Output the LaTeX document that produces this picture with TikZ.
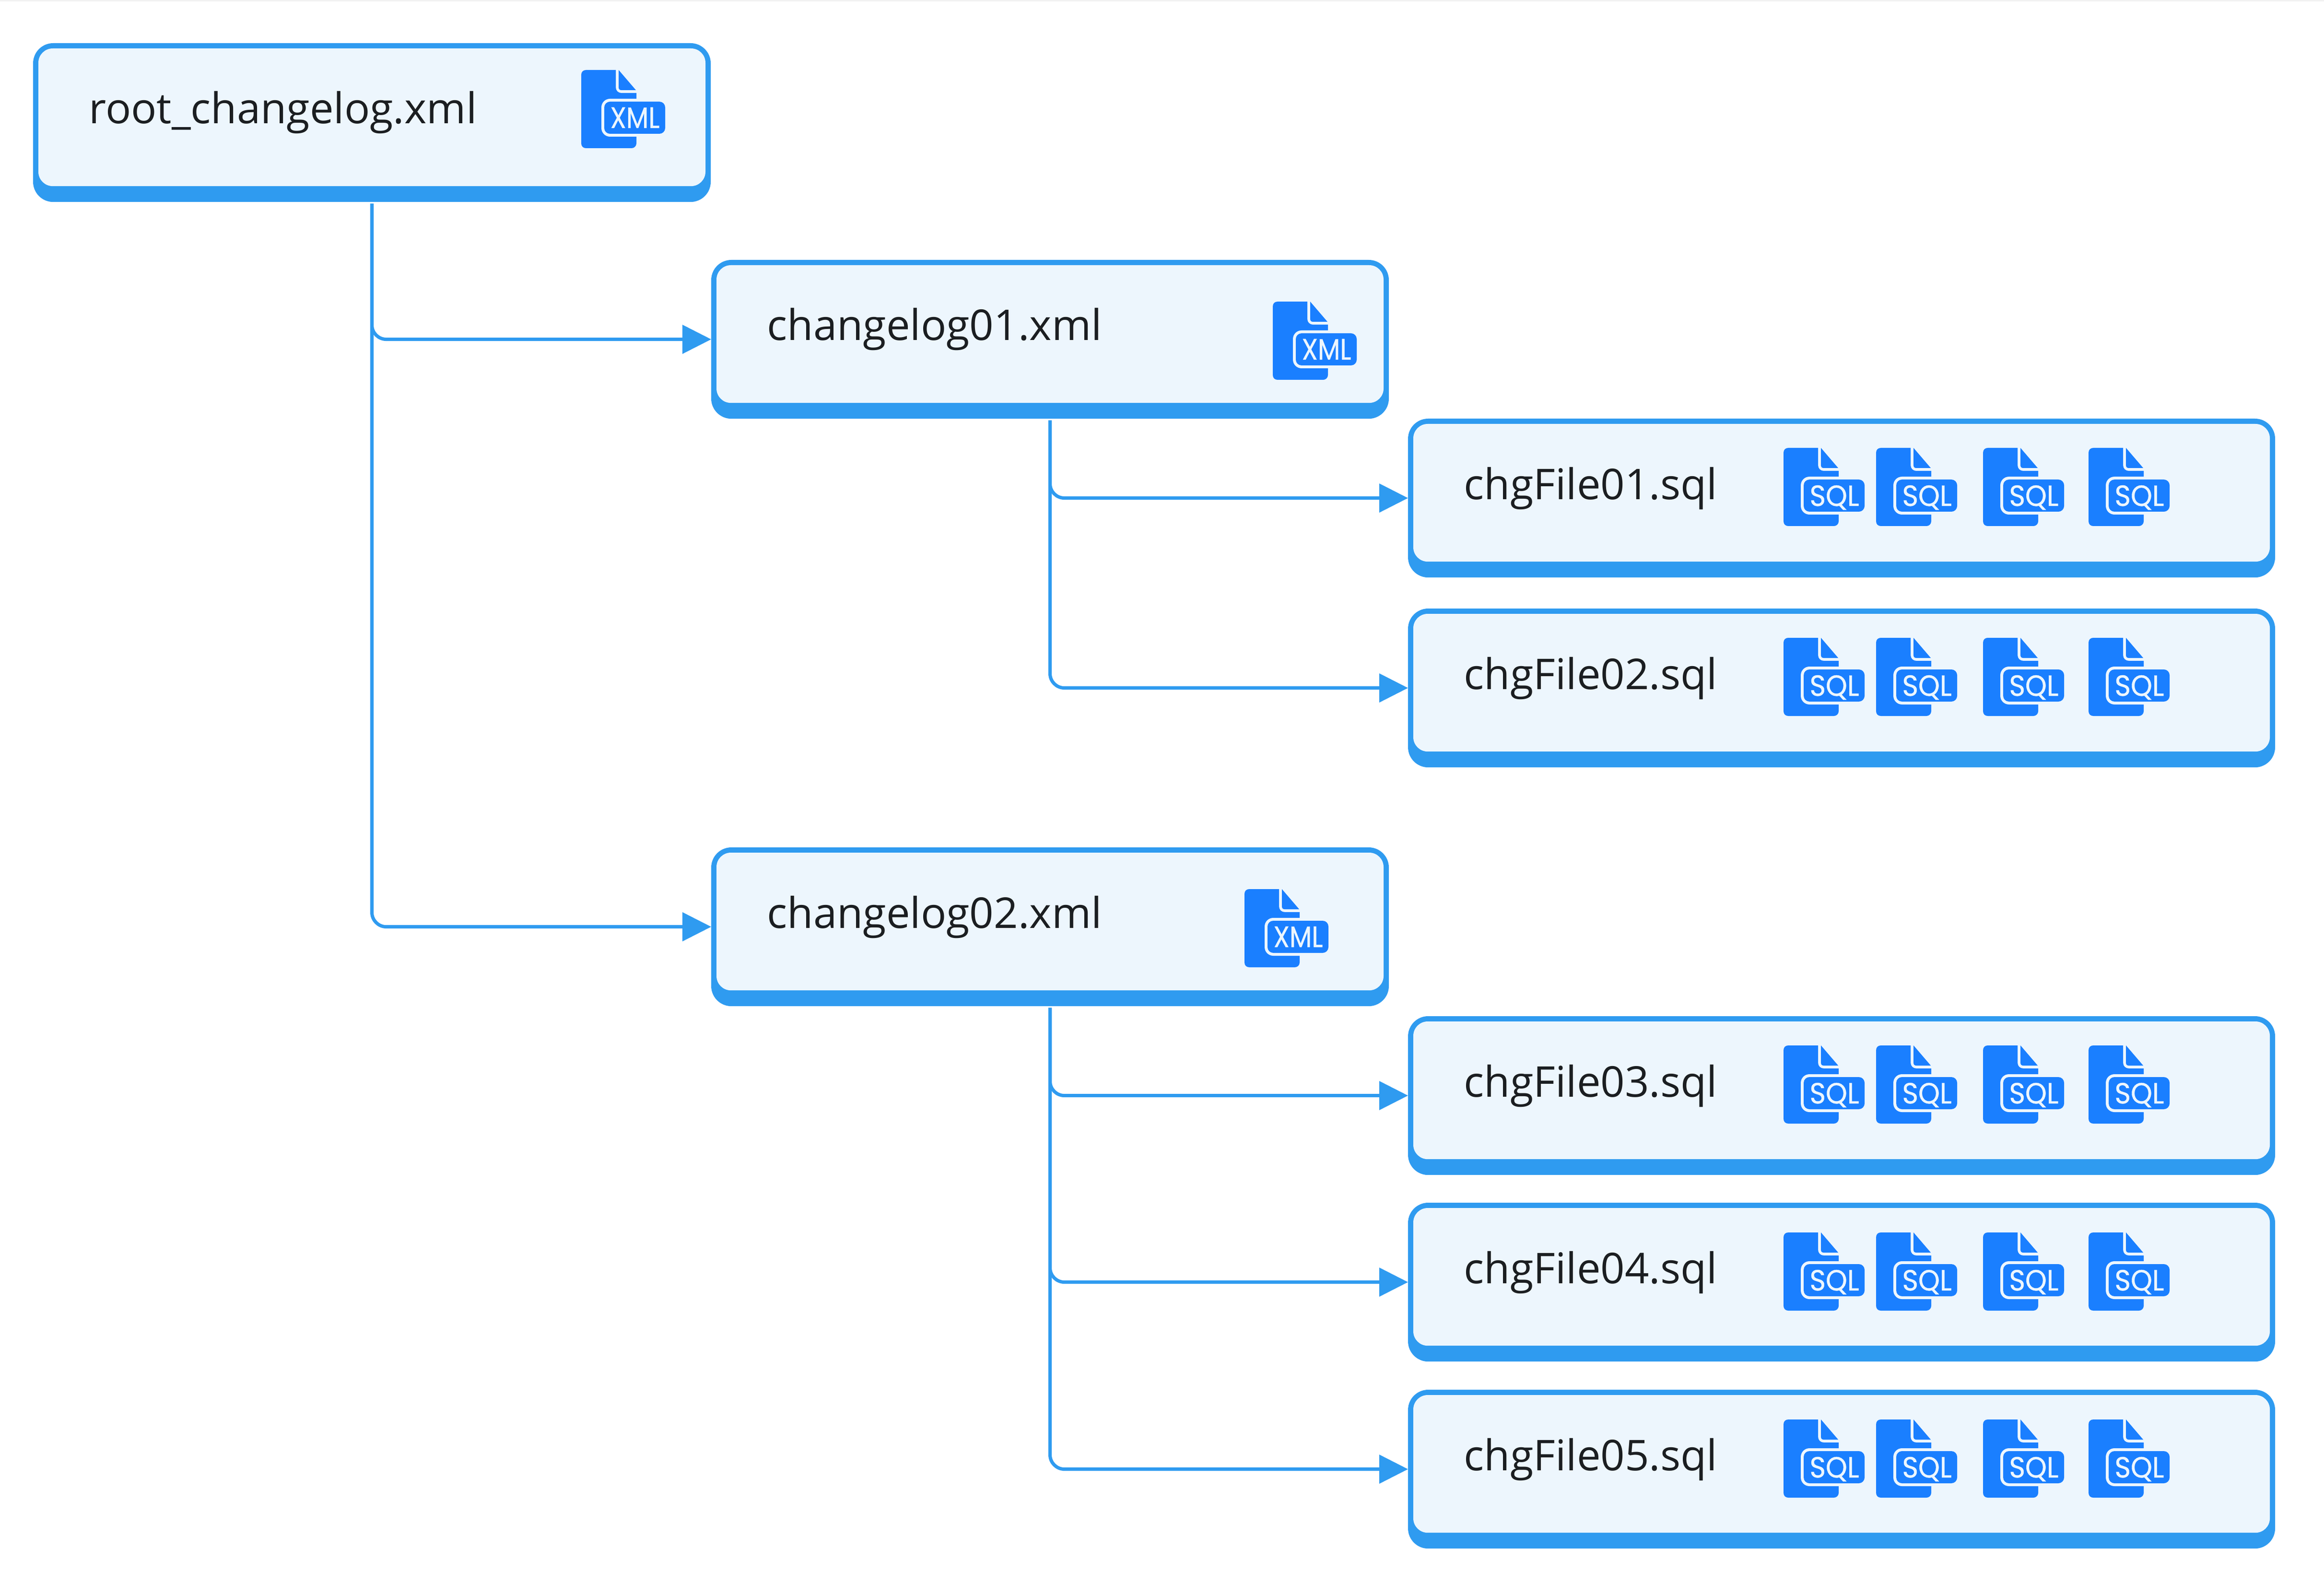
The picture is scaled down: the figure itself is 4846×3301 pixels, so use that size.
\documentclass[tikz,border=0pt]{standalone}
\usepackage{fontspec}
\setmainfont{Open Sans}
\newfontfamily\iconfont[FakeBold=0.7]{Poppins}
\usetikzlibrary{arrows.meta}
\definecolor{edgeblue}{HTML}{2F9BF0}
\definecolor{boxbg}{HTML}{EDF6FD}
\definecolor{iconblue}{HTML}{1A7FFF}
\definecolor{labelink}{HTML}{1B1E21}
\definecolor{topband}{HTML}{F2F2F2}
\tikzset{
  outerbox/.style={fill=edgeblue,draw=none,rounded corners=0.42cm,anchor=north west,inner sep=0pt,outer sep=0pt},
  innerbox/.style={fill=boxbg,draw=none,rounded corners=0.3cm,anchor=north west,inner sep=0pt,outer sep=0pt},
  boxlabel/.style={anchor=base west,inner sep=0pt,text=labelink,font=\fontsize{25.15pt}{30pt}\selectfont},
  badgetext/.style={anchor=base,inner sep=0pt,text=boxbg,font=\iconfont\fontsize{16.5pt}{20pt}\selectfont},
  link/.style={draw=edgeblue,line width=0.07cm,rounded corners=0.3cm,shorten <=0.035cm,-{Triangle[length=0.6cm,width=0.59cm]}}
}
% name, x, y, w, label
\newcommand{\chartbox}[5]{%
  \node[outerbox,minimum width={#4*0.01cm},minimum height=3.31cm] (#1) at (#2,#3) {};
  \node[innerbox,minimum width={(#4-22)*0.01cm},minimum height=2.87cm] (#1in) at (#2+11,#3+11) {};
  \node[boxlabel] (#1txt) at (#2+116,#3+168) {#5};
}
% name, x, y, text, badge shift
\newcommand{\fileicon}[5]{%
  \begin{scope}[shift={(#2,#3)}]
    \fill[iconblue] (10,0) -- (72,0) -- (72,36) .. controls (72,43) and (77,48) .. (84,48) -- (115,48) -- (115,153) .. controls (115,159) and (110,163) .. (105,163) -- (10,163) .. controls (4,163) and (0,159) .. (0,153) -- (0,10) .. controls (0,4) and (4,0) .. (10,0) -- cycle;
    \fill[iconblue] (78,0) -- (114,42) -- (84,42) .. controls (80,42) and (78,40) .. (78,36) -- cycle;
    \fill[boxbg,rounded corners=0.18cm] (42+#5,60) rectangle (181+#5,139);
    \fill[iconblue,rounded corners=0.12cm] (48+#5,66) rectangle (175+#5,133);
    \node[badgetext] (#1) at (112+#5,121) {\resizebox{1.03cm}{0.43cm}{#4}};
  \end{scope}
}
\newcommand{\sqlrow}[2]{%
  \fileicon{#1a}{3719}{#2}{SQL}{-6}
  \fileicon{#1b}{3912}{#2}{SQL}{-6}
  \fileicon{#1c}{4135}{#2}{SQL}{-6}
  \fileicon{#1d}{4355}{#2}{SQL}{-6}
}
\begin{document}
\begin{tikzpicture}[x=0.01cm,y=-0.01cm]
\useasboundingbox (0,0) rectangle (4846,3301);
\fill[topband] (0,0) rectangle (4846,3);
\chartbox{root}{69}{90}{1413}{root\_changelog.xml}
\chartbox{cla}{1483}{542}{1413}{changelog01.xml}
\chartbox{clb}{1483}{1767}{1413}{changelog02.xml}
\chartbox{fa}{2936}{873}{1808}{chgFile01.sql}
\chartbox{fb}{2936}{1269}{1808}{chgFile02.sql}
\chartbox{fc}{2936}{2119}{1808}{chgFile03.sql}
\chartbox{fd}{2936}{2508}{1808}{chgFile04.sql}
\chartbox{fe}{2936}{2898}{1808}{chgFile05.sql}
\fileicon{rootx}{1212}{146}{XML}{0}
\fileicon{clax}{2654}{629}{XML}{0}
\fileicon{clbx}{2595}{1854}{XML}{0}
\sqlrow{fa}{934}
\sqlrow{fb}{1330}
\sqlrow{fc}{2180}
\sqlrow{fd}{2570}
\sqlrow{fe}{2960}
\draw[link] (root.south) |- (cla.west);
\draw[link] (root.south) |- (clb.west);
\draw[link] (cla.south) |- (fa.west);
\draw[link] (cla.south) |- (fb.west);
\draw[link] (clb.south) |- (fc.west);
\draw[link] (clb.south) |- (fd.west);
\draw[link] (clb.south) |- (fe.west);
\end{tikzpicture}
\end{document}
